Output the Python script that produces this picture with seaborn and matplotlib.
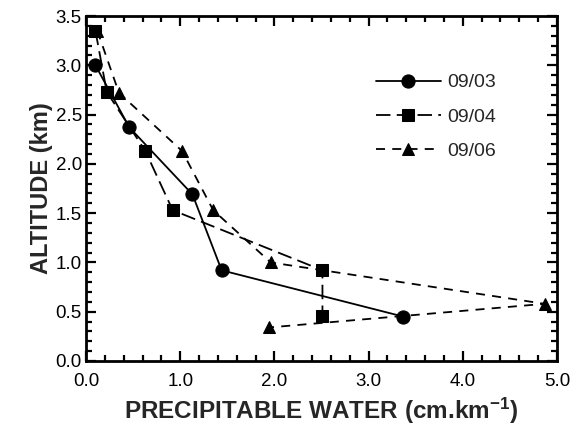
import matplotlib
matplotlib.use("Agg")
import matplotlib.pyplot as plt
from matplotlib.ticker import MultipleLocator, FormatStrFormatter
import seaborn as sns
import pandas as pd

# Data
labels = ["09/03", "09/04", "09/06"]
x_0903 = [0.10, 0.46, 1.13, 1.44, 3.37]
y_0903 = [3.00, 2.37, 1.69, 0.92, 0.45]
x_0904 = [0.10, 0.22, 0.63, 0.92, 2.51, 2.51]
y_0904 = [3.35, 2.73, 2.13, 1.53, 0.92, 0.46]
x_0906 = [0.12, 0.35, 1.02, 1.35, 1.96, 4.87, 1.94]
y_0906 = [3.35, 2.72, 2.13, 1.53, 1.00, 0.58, 0.34]

sns.set_theme(style="ticks")
plt.rcParams['font.family'] = ['Liberation Sans', 'DejaVu Sans']
plt.rcParams['mathtext.fontset'] = 'custom'
plt.rcParams['mathtext.rm'] = 'Liberation Sans:bold'
plt.rcParams['mathtext.default'] = 'rm'

fig = plt.figure(figsize=(5.75, 4.26), dpi=100)
ax = fig.add_axes([0.1496, 0.1526, 0.8191, 0.8098])

series = [
    (x_0903, y_0903, labels[0], 'o', 9.5, None),
    (x_0904, y_0904, labels[1], 's', 8.5, (8.0, 3.5)),
    (x_0906, y_0906, labels[2], '^', 8.5, (5.0, 4.0)),
]
for xs, ys, lab, mk, ms, dash in series:
    df = pd.DataFrame({"x": xs, "y": ys})
    sns.lineplot(data=df, x="x", y="y", ax=ax, color='black', marker=mk,
                 markersize=ms, markeredgecolor='black', linewidth=1.3,
                 label=lab, sort=False, estimator=None)
    if dash is not None:
        ax.lines[-1].set_dashes(dash)

ax.set_xlim(0, 5)
ax.set_ylim(0, 3.5)
ax.xaxis.set_major_locator(MultipleLocator(1.0))
ax.xaxis.set_minor_locator(MultipleLocator(0.2))
ax.yaxis.set_major_locator(MultipleLocator(0.5))
ax.yaxis.set_minor_locator(MultipleLocator(0.1))
ax.xaxis.set_major_formatter(FormatStrFormatter('%.1f'))
ax.yaxis.set_major_formatter(FormatStrFormatter('%.1f'))
ax.tick_params(which='both', direction='in', top=True, right=True, width=1.6,
               colors='black', labelsize=13.5)
ax.tick_params(which='major', length=7)
ax.tick_params(which='minor', length=4)
ax.tick_params(axis='x', which='major', pad=9)
ax.tick_params(axis='y', which='major', pad=3)
for s in ax.spines.values():
    s.set_linewidth(2.0)
    s.set_color('black')

ax.set_xlabel(r'PRECIPITABLE WATER (cm.km$^{-1}$)', fontsize=17.5,
              fontweight='bold', labelpad=4)
ax.set_ylabel('ALTITUDE (km)', fontsize=17, fontweight='bold', labelpad=2)

leg = ax.legend(loc='upper left', bbox_to_anchor=(0.6, 0.855), frameon=False,
                fontsize=14, handlelength=3.3, handletextpad=0.35,
                labelspacing=0.85, borderaxespad=0)

fig.savefig('out.png', dpi=100)
